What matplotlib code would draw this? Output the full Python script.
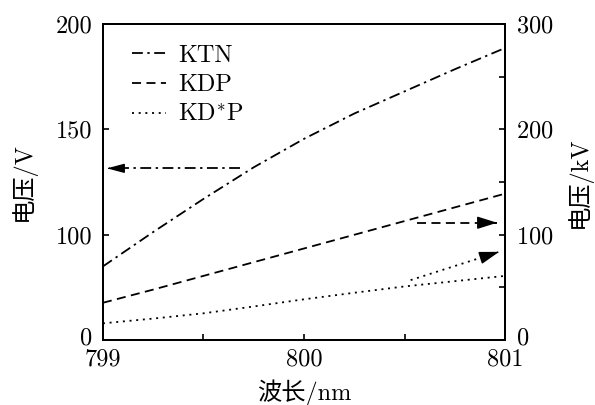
import numpy as np
import matplotlib
matplotlib.use("Agg")
import matplotlib.pyplot as plt
from matplotlib.transforms import ScaledTranslation

plt.rcParams['font.family'] = ['cmr10', 'Noto Sans CJK SC']
plt.rcParams['mathtext.fontset'] = 'cm'
plt.rcParams['axes.formatter.use_mathtext'] = True
plt.rcParams['font.size'] = 17.5

# wavelength (nm)
wl = [799.0, 799.25, 799.5, 799.75, 800.0, 800.25, 800.5, 800.75, 801.0]
# left axis (V)
ktn = [85, 101.3, 117, 132, 145.5, 157.5, 168, 178.5, 188.6]
# right axis (kV)
kdp = [35.5, 48, 61, 74, 87, 100, 113, 126, 139]
kdsp = [16, 20.5, 25.5, 32, 38.8, 45, 51, 56, 61]

# left axis ticks (as printed on the original)
left_ticks = [50, 100, 150, 200]
left_labels = ['0', '100', '150', '200']

# arrows: (start x, start y, tip x, tip y)
arrow_ktn = (799.68, 131.5, 799.02, 131.5)
arrow_kdp = (800.56, 111.4, 800.96, 111.4)
arrow_kdsp = (800.53, 57, 800.97, 83.8)

fig = plt.figure(figsize=(5.95, 4.05), dpi=100)
ax = fig.add_axes([0.173, 0.160, 0.676, 0.781])
ax2 = ax.twinx()

ls_dd = (0, (6, 2.5, 1.3, 2.5))
ls_da = (0, (5, 3))
ls_do = (0, (1.1, 2.6))

l1, = ax.plot(wl, ktn, color='k', lw=1.3, ls=ls_dd, label='KTN')
l2, = ax2.plot(wl, kdp, color='k', lw=1.3, ls=ls_da, label='KDP')
l3, = ax2.plot(wl, kdsp, color='k', lw=1.3, ls=ls_do, label=r'KD$^{*}$P')


def arrow(a, x0, y0, x1, y1, ls, style):
    a.plot([x0, x1], [y0, y1], color='k', lw=1.3, ls=ls)
    dx, dy = x1 - x0, y1 - y0
    a.annotate('', xy=(x1, y1), xytext=(x1 - dx * 0.02, y1 - dy * 0.02),
               arrowprops=dict(arrowstyle=style, color='k', lw=1.0,
                               shrinkA=0, shrinkB=0))


arrow(ax, *arrow_ktn, ls_dd, '-|>,head_length=0.6,head_width=0.16')
arrow(ax2, *arrow_kdp, ls_da, '-|>,head_length=0.7,head_width=0.22')
arrow(ax2, *arrow_kdsp, ls_do, '-|>,head_length=0.7,head_width=0.22')

ax.set_xlim(799, 801)
ax.set_xticks([799, 800, 801])
ax.set_xticks([799.5, 800.5], minor=True)
ax.set_xticklabels(['799', '800', '801'])
ax.set_ylim(50, 200)
ax.set_yticks(left_ticks)
ax.set_yticklabels(left_labels)
ax2.set_ylim(0, 300)
ax2.set_yticks([0, 100, 200, 300])
ax2.set_yticks([50, 150, 250], minor=True)

for a in (ax, ax2):
    a.tick_params(direction='in', length=4, width=1.2, which='both')
    for s in a.spines.values():
        s.set_linewidth(1.4)
ax.tick_params(axis='y', pad=7.5)
ax.tick_params(axis='x', pad=6)
ax2.tick_params(axis='y', pad=7.5)

# the bottom "0" labels sit a little above the corner, as in the original
lift = ScaledTranslation(0, 0.04, fig.dpi_scale_trans)
for tick_axis in (ax.yaxis, ax2.yaxis):
    t = tick_axis.get_major_ticks()[0]
    t.label1.set_transform(t.label1.get_transform() + lift)
    t.label2.set_transform(t.label2.get_transform() + lift)

ax.set_xlabel('波长/nm', labelpad=6)
ax.set_ylabel('电压/V', labelpad=14)
ax2.set_ylabel('电压/kV', labelpad=9, rotation=90)

ax2.legend(handles=[l1, l2, l3], loc='upper left', bbox_to_anchor=(0.072, 0.935),
           frameon=False, borderaxespad=0, borderpad=0, handlelength=1.4,
           handletextpad=0.5, labelspacing=0.32)

fig.savefig('out.png', dpi=100)
